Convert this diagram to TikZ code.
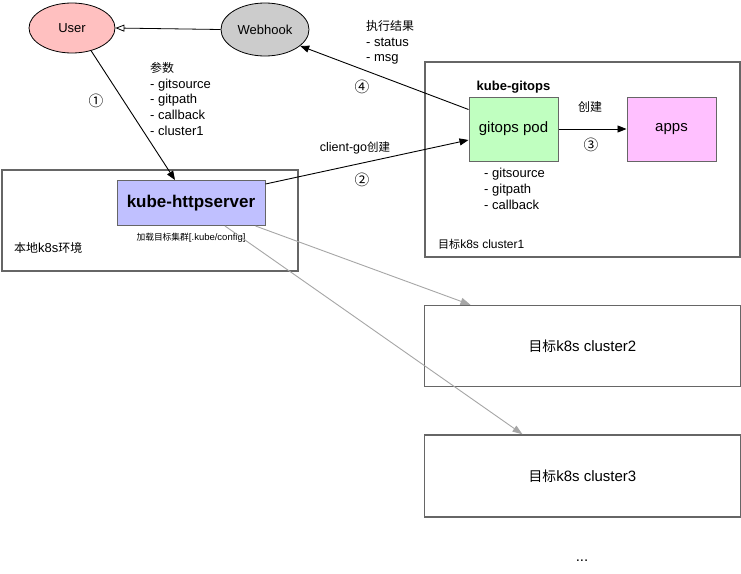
\documentclass[tikz,border=0pt]{standalone}
\usepackage{fontspec}
\setmainfont{Liberation Sans}
\newfontfamily\cjk[Scale=0.92]{Noto Sans CJK SC}
\usetikzlibrary{positioning}
\usetikzlibrary{shapes.geometric}
\usetikzlibrary{arrows.meta}
\definecolor{userpink}{HTML}{FFC0C0}
\definecolor{hookgray}{HTML}{CCCCCC}
\definecolor{serverblue}{HTML}{C0C0FF}
\definecolor{podgreen}{HTML}{C0FFC0}
\definecolor{appspink}{HTML}{FFC0FF}
\definecolor{boxgray}{HTML}{666666}
\definecolor{fangray}{HTML}{A6A6A6}

\begin{document}
\begin{tikzpicture}[x=1pt, y=-1pt,
                    person/.style={ellipse, draw, line width=0.8pt, minimum width=86pt, minimum height=50pt, font=\fontsize{13}{16}\selectfont},
                    envbox/.style={rectangle, draw=boxgray, line width=1.4pt, font=\fontsize{15}{18}\selectfont},
                    podbox/.style={rectangle, draw=boxgray, line width=1pt, minimum width=89pt, minimum height=64pt, font=\fontsize{15}{18}\selectfont},
                    note/.style={inner sep=0pt, align=left, font=\fontsize{13}{15.8}\selectfont},
                    stepnum/.style={inner sep=0pt, font=\cjk\fontsize{16}{18}\selectfont},
                    flow/.style={-{Triangle[length=9pt,width=7pt]}, line width=0.9pt},
                    openflow/.style={-{Triangle[open,length=9pt,width=7pt]}, line width=0.8pt},
                    fanout/.style={-{Triangle[length=10pt,width=7pt]}, draw=fangray, line width=0.9pt, fangray},
                   ]
  \fill[white] (0,0) rectangle (741,573);
  \useasboundingbox (0,0) rectangle (741,573);
  %Nodes
  \node[person, fill=userpink]  (user)    at (72,28)     {User};
  \node[person, fill=hookgray, minimum width=88pt, minimum height=53pt] (webhook) at (265,29.5) {Webhook};

  \node[envbox, minimum width=296pt, minimum height=101pt] (local)    at (150,220.5) {};
  \node[envbox, minimum width=315pt, minimum height=195pt] (cluster1) at (582.5,159.5) {};
  \node[envbox, minimum width=316pt, minimum height=81pt]  (cluster2) at (582.5,346) {{\cjk 目标}k8s cluster2};
  \node[envbox, minimum width=316pt, minimum height=82pt]  (cluster3) at (582.5,476) {{\cjk 目标}k8s cluster3};

  \node[rectangle, draw=boxgray, line width=1pt, fill=serverblue, minimum width=148pt, minimum height=45pt,
        font=\bfseries\fontsize{17}{20}\selectfont] (server) at (191,203) {kube-httpserver};
  \node[note, font=\fontsize{9.5}{11}\selectfont] (cfg) [below=7pt of server] {{\cjk 加载目标集群}[.kube/config]};
  \node[note, anchor=west] (localname) at (14,248) {{\cjk 本地}k8s{\cjk 环境}};

  \node[podbox, fill=podgreen]  (pod)  at (513.5,129) {gitops pod};
  \node[podbox, fill=appspink]  (apps) at (671.5,129) {apps};
  \node[note, font=\bfseries\fontsize{13}{16}\selectfont] (gitops) [above=3pt of pod] {kube-gitops};
  \node[note, anchor=north west] (podargs) at (484,168) {- gitsource\\- gitpath\\- callback};
  \node[note, anchor=west, font=\fontsize{12}{14}\selectfont] (c1name) at (438,244) {{\cjk 目标}k8s cluster1};

  \node[note, anchor=north west] (params) at (150,62)  {{\cjk 参数}\\- gitsource\\- gitpath\\- callback\\- cluster1};
  \node[note, anchor=north west] (result) at (366,20)  {{\cjk 执行结果}\\- status\\- msg};
  \node[note, font=\fontsize{12.5}{15}\selectfont] (clientgo) at (355,148) {client-go{\cjk 创建}};
  \node[note] (create) at (590,107) {{\cjk 创建}};

  \node[stepnum] (one)   at (96,101)  {①};
  \node[stepnum] (two)   at (362,180) {②};
  \node[stepnum] (three) at (591,145) {③};
  \node[stepnum] (four)  at (362,87)  {④};

  \node[note, anchor=base, font=\fontsize{15}{18}\selectfont] (more) at (582,561) {...};

  %Lines
  \draw[openflow] (webhook.west) -- (user.east);
  \draw[flow] (user.-50) -- ([xshift=-16pt]server.north);
  \draw[flow] ([yshift=-4pt]server.north east) -- ([yshift=-11pt]pod.west);
  \draw[flow] ([yshift=-13pt]pod.north west) -- (webhook.-25);
  \draw[flow] (pod.east) -- (apps.west);
  \draw[fanout] ([xshift=-10pt]server.south east) -- ([xshift=-112pt]cluster2.north);
  \draw[fanout] ([xshift=34pt]server.south) -- ([xshift=-60pt]cluster3.north);
\end{tikzpicture}
\end{document}
